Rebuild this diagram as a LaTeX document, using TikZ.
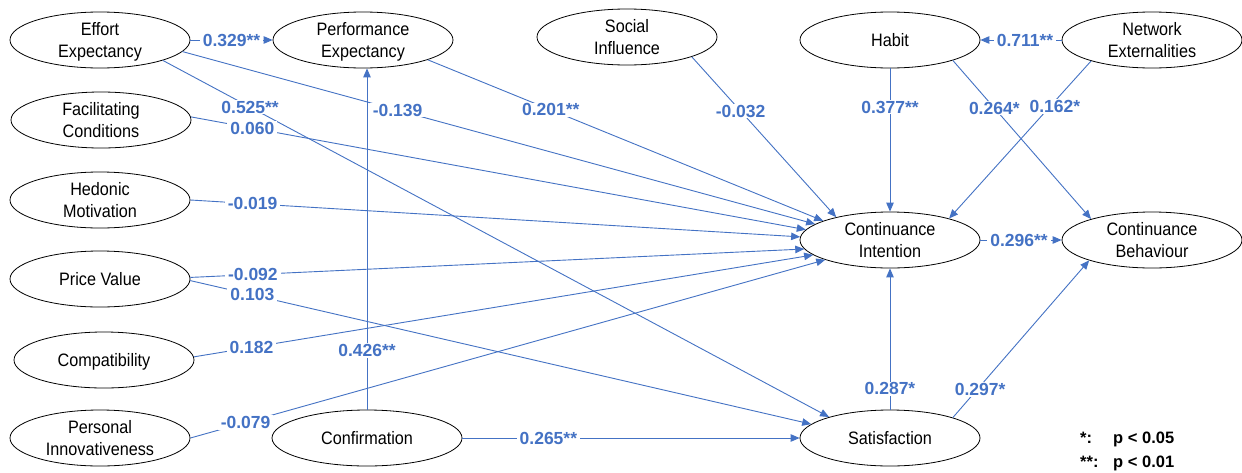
\documentclass[tikz,border=0pt]{standalone}
\usepackage{fontspec}
\setmainfont{Liberation Sans}
\newfontfamily\nodefont{Liberation Sans}[FakeStretch=0.9]
\usetikzlibrary{arrows.meta,shapes.geometric}
\definecolor{pathblue}{HTML}{4472C4}

\begin{document}
\begin{tikzpicture}[x=1pt,y=-1pt,
  construct/.style={ellipse,draw=black,line width=0.8pt,minimum width=180pt,
    minimum height=56pt,inner sep=0pt,align=center,text depth=0pt,
    font=\nodefont\fontsize{18}{22}\selectfont},
  effect/.style={draw=pathblue,line width=0.9pt,
    -{Triangle[length=9pt,width=7.5pt]}},
  coef/.style={fill=white,text=pathblue,inner xsep=3pt,inner ysep=1pt,
    font=\bfseries\fontsize{17.5}{20}\selectfont},
  legend/.style={inner sep=0pt,font=\bfseries\fontsize{16.5}{19}\selectfont}
]
\useasboundingbox (0,0) rectangle (1242,472);
\fill[white] (0,0) rectangle (1242,472);

% constructs
\node[construct] (EE) at (100,40)  {Effort\\Expectancy};
\node[construct] (PE) at (363,40)  {Performance\\Expectancy};
\node[construct] (SI) at (627,37)  {Social\\Influence};
\node[construct] (HB) at (890,40)  {Habit};
\node[construct] (NE) at (1152,40) {Network\\Externalities};
\node[construct] (FC) at (101,120) {Facilitating\\Conditions};
\node[construct] (HM) at (100,200) {Hedonic\\Motivation};
\node[construct] (PV) at (100,279) {Price Value};
\node[construct] (CO) at (104,360) {Compatibility};
\node[construct] (PI) at (100,438) {Personal\\Innovativeness};
\node[construct,minimum width=190pt] (CF) at (367,438) {Confirmation};
\node[construct] (CI) at (890,240) {Continuance\\Intention};
\node[construct] (CB) at (1152,240) {Continuance\\Behaviour};
\node[construct] (SA) at (890,438) {Satisfaction};

% structural paths
\draw[effect] (EE.east) -- coordinate[pos=0.5] (kEEPE) (PE.west);
\draw[effect] (EE.-8) -- coordinate[pos=0.34] (kEECI) (CI.168);
\draw[effect] (EE.-18) -- coordinate[pos=0.131] (kEESA) (SA.161);
\draw[effect] (PE.-17) -- coordinate[pos=0.311] (kPECI) (CI.164);
\draw[effect] (SI.-17) -- coordinate[pos=0.338] (kSICI) (CI.157);
\draw[effect] (HB.south) -- coordinate[pos=0.27] (kHBCI) (CI.north);
\draw[effect] (HB.-18) -- coordinate[pos=0.30] (kHBCB) (CB.161);
\draw[effect] (NE.west) -- coordinate[pos=0.45] (kNEHB) (HB.east);
\draw[effect] (NE.199) -- coordinate[pos=0.29] (kNECI) (CI.20);
\draw[effect] (FC.2) -- coordinate[pos=0.10] (kFCCI) (CI.173);
\draw[effect] (HM.east) -- coordinate[pos=0.102] (kHMCI) (CI.178);
\draw[effect] (PV.1) -- coordinate[pos=0.102] (kPVCI) (CI.186);
\draw[effect] (PV.-1) -- coordinate[pos=0.10] (kPVSA) (SA.170);
\draw[effect] (CO.2) -- coordinate[pos=0.093] (kCOCI) (CI.191);
\draw[effect] (PI.east) -- coordinate[pos=0.087] (kPICI) (CI.197);
\draw[effect] (CF.north) -- coordinate[pos=0.173] (kCFPE) (CF.north |- PE.south);
\draw[effect] (CF.east) -- coordinate[pos=0.255] (kCFSA) (SA.west);
\draw[effect] (SA.north) -- coordinate[pos=0.147] (kSACI) (CI.south);
\draw[effect] (SA.18) -- coordinate[pos=0.178] (kSACB) (CB.198);
\draw[effect] (CI.east) -- coordinate[pos=0.476] (kCICB) (CB.west);

% path coefficients
\node[coef] (cEEPE) at (kEEPE) {0.329**};
\node[coef] (cEECI) at (kEECI) {-0.139};
\node[coef] (cEESA) at (kEESA) {0.525**};
\node[coef] (cPECI) at (kPECI) {0.201**};
\node[coef] (cSICI) at (kSICI) {-0.032};
\node[coef] (cHBCI) at (kHBCI) {0.377**};
\node[coef] (cHBCB) at (kHBCB) {0.264*};
\node[coef] (cNEHB) at (kNEHB) {0.711**};
\node[coef] (cNECI) at ([xshift=5pt]kNECI) {0.162*};
\node[coef] (cFCCI) at (kFCCI) {0.060};
\node[coef] (cHMCI) at (kHMCI) {-0.019};
\node[coef] (cPVCI) at (kPVCI) {-0.092};
\node[coef] (cPVSA) at (kPVSA) {0.103};
\node[coef] (cCOCI) at (kCOCI) {0.182};
\node[coef] (cPICI) at (kPICI) {-0.079};
\node[coef] (cCFPE) at (kCFPE) {0.426**};
\node[coef] (cCFSA) at (kCFSA) {0.265**};
\node[coef] (cSACI) at (kSACI) {0.287*};
\node[coef] (cSACB) at ([xshift=3pt]kSACB) {0.297*};
\node[coef] (cCICB) at (kCICB) {0.296**};

% significance legend
\node[legend,anchor=base west] (key1) at (1080,443) {*:};
\node[legend,anchor=base west] (val1) at (1113,443) {p < 0.05};
\node[legend,anchor=base west] (key2) at (1080,467) {**:};
\node[legend,anchor=base west] (val2) at (1113,467) {p < 0.01};
\end{tikzpicture}
\end{document}
